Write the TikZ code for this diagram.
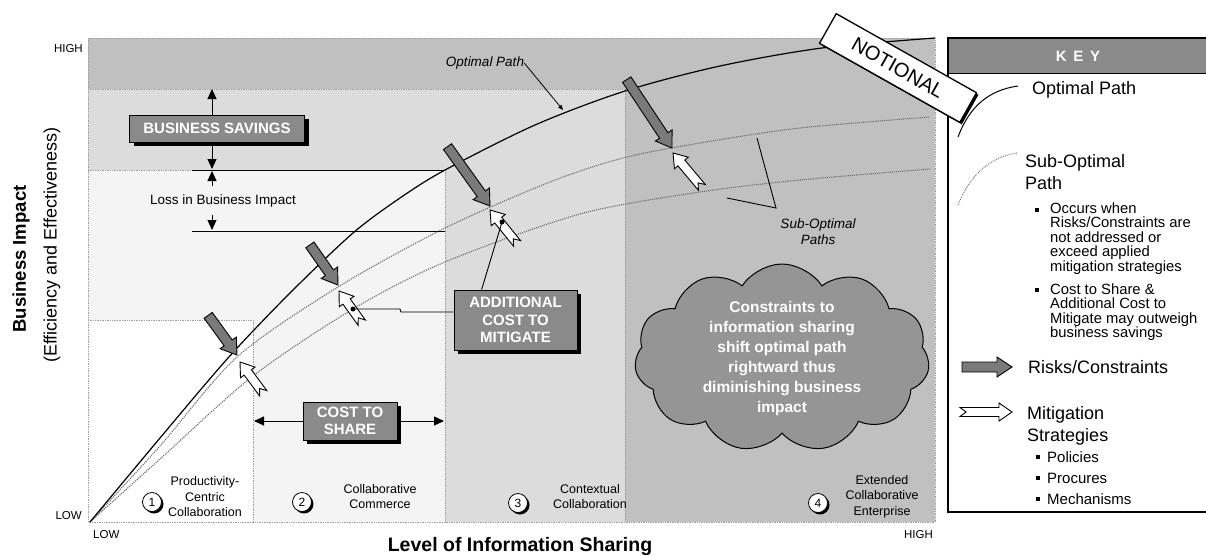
\documentclass[tikz,border=0pt]{standalone}
\usepackage{fontspec}
\setmainfont{Liberation Sans}
\usetikzlibrary{positioning}
\usetikzlibrary{arrows.meta}
\usetikzlibrary{shapes.symbols}
\usetikzlibrary{shadows}
\definecolor{bandhi}{HTML}{C0C0C0}
\definecolor{bandmid}{HTML}{DCDCDC}
\definecolor{bandlo}{HTML}{F4F4F4}
\definecolor{boxgray}{HTML}{8A8A8A}
\definecolor{riskgray}{HTML}{7A7A7A}
\definecolor{cloudgray}{HTML}{959595}
\definecolor{subgray}{HTML}{6E6E6E}
\begin{document}
\begin{tikzpicture}[
    x=1pt, y=-1pt,
    bound/.style={draw=gray!75, densely dotted, line width=0.7pt},
    optpath/.style={line width=1.2pt},
    subpath/.style={draw=subgray, densely dotted, line width=1.1pt},
    tag/.style={rectangle, draw=black, line width=0.8pt, fill=boxgray, text=white, align=center, inner sep=0pt, font=\bfseries\fontsize{15}{17.5}\selectfont, drop shadow={shadow xshift=4pt, shadow yshift=-4pt, fill=black, opacity=1}},
    numc/.style={circle, draw=black, line width=0.8pt, fill=white, minimum size=19pt, inner sep=0pt, font=\fontsize{12}{12}\selectfont, drop shadow={shadow xshift=2pt, shadow yshift=-2pt, fill=black, opacity=1}},
    reg/.style={align=center, inner sep=0pt, font=\fontsize{12.5}{15.5}\selectfont},
    axl/.style={inner sep=0pt, font=\fontsize{11.5}{12}\selectfont},
    note/.style={align=center, inner sep=0pt, font=\itshape\fontsize{13.5}{16}\selectfont},
    keytxt/.style={anchor=west, align=left, inner sep=0pt, font=\fontsize{18}{21.5}\selectfont},
    keysub/.style={anchor=west, align=left, inner sep=0pt, font=\fontsize{14.8}{14.5}\selectfont},
    bul/.style={rectangle, fill=black, inner sep=0pt, minimum size=4pt},
    dot/.style={circle, fill=black, inner sep=0pt, minimum size=5pt},
    arr/.style={-{Triangle[length=10pt, width=9pt]}, line width=1pt},
    thinarr/.style={-{Triangle[length=5pt, width=4pt]}, line width=0.8pt},
    pics/risk/.style={code={\draw[line width=0.9pt, fill=riskgray] (-#1,5) -- (-15,5) -- (-15,10) -- (0,0) -- (-15,-10) -- (-15,-5) -- (-#1,-5) -- cycle;}},
    pics/mitig/.style={code={\draw[line width=0.9pt, fill=white] (-#1,4.5) -- (-13,4.5) -- (-13,9) -- (0,0) -- (-13,-9) -- (-13,-4.5) -- (-#1,-4.5) -- (-#1+6,0) -- cycle;}}
]
\useasboundingbox (0,0) rectangle (1206,555);
\fill[white] (0,0) rectangle (1206,555);

\fill[bandhi] (88,38) rectangle (935,522);
\fill[bandmid] (88,89) rectangle (625,522);
\fill[bandlo] (88,170) rectangle (445,522);
\fill[white] (88,320) rectangle (253,522);
\draw[bound] (88,38) rectangle (935,522);
\draw[bound] (88,89) -- (625,89) -- (625,522);
\draw[bound] (88,170) -- (445,170) -- (445,522);
\draw[bound] (88,320) -- (253,320) -- (253,522);

\draw[subpath] plot[smooth] coordinates {(90,522) (160,459) (253,376) (353,309) (445,262) (580,214) (700,192) (800,180) (930,169)};
\draw[subpath] plot[smooth] coordinates {(90,522) (160,446) (237,357) (338,287) (445,228) (550,182) (623,158) (700,143) (800,128) (930,117)};
\draw[optpath] plot[smooth] coordinates {(90,522) (160,438) (228,358) (290,293) (353,233) (400,198) (445,170) (535,125) (625,91) (720,66) (822,48) (935,38)};

\draw[line width=1pt] (192,170) -- (445,170);
\draw[line width=1pt] (192,231) -- (445,231);

\pic[rotate=-54] at (237,355) {risk=49};
\pic[rotate=-55] at (338,285) {risk=49};
\pic[rotate=-54.4] at (490,206) {risk=73};
\pic[rotate=-56.5] at (672,148) {risk=82};

\pic[rotate=126.6] at (240,362) {mitig=39};
\pic[rotate=125.7] at (339,291) {mitig=39};
\pic[rotate=129] at (490,210) {mitig=43};
\pic[rotate=130] at (673,153) {mitig=45};

\node[dot] (dot2) at (353,309) {};
\node[dot] (dot3) at (502,222) {};

\node[tag, minimum width=175pt, minimum height=27pt] (savebox) at (217,128.5) {BUSINESS SAVINGS};
\node[tag, minimum width=94pt, minimum height=38pt] (sharebox) at (350,421) {COST TO\\SHARE};
\node[tag, minimum width=123pt, minimum height=60pt] (addbox) at (515.5,320) {ADDITIONAL\\COST TO\\MITIGATE};

\draw[arr] ([xshift=-5pt]savebox.north) -- (212,89);
\draw[arr] ([xshift=-5pt]savebox.south) -- (212,169);
\node[axl, font=\fontsize{13.5}{16}\selectfont] (loss) at (223,201) {Loss in Business Impact};
\draw[arr] (212,186) -- (212,171);
\draw[arr] (212,215) -- (212,230);
\draw[arr] (sharebox.west) -- (254,421);
\draw[arr] (sharebox.east) -- (444,421);
\draw[line width=0.9pt] ([xshift=28pt]addbox.north west) -- (dot3.center);
\draw[line width=0.9pt] (dot2.center) -- (400,309) -- (401,312) -- ([yshift=8pt]addbox.west);

\node[note] (optlbl) at (485,63) {Optimal Path};
\coordinate (optpt) at (563,110);
\draw[thinarr] (optlbl.east) -- (optpt);

\node[note] (sublbl) at (818,232) {Sub-Optimal\\Paths};
\coordinate (subjoin) at (776,208);
\coordinate (subup) at (757,138);
\coordinate (sublow) at (727,198);
\draw[line width=0.9pt] (subup) -- (subjoin) -- (sublow);

\node[cloud, cloud puffs=11, cloud puff arc=115, aspect=1.55, draw=black, line width=1pt, fill=cloudgray, minimum width=295pt, minimum height=188pt] (cloud) at (782,358) {};
\node[align=center, text=white, inner sep=0pt, font=\bfseries\fontsize{15.5}{20}\selectfont] (cloudtxt) at (cloud.center) {Constraints to\\information sharing\\shift optimal path\\rightward thus\\diminishing business\\impact};

\node[numc] (n1) at (152,502) {1};
\node[numc] (n2) at (302,502) {2};
\node[numc] (n3) at (518,503) {3};
\node[numc] (n4) at (818,503) {4};
\node[reg] (r1) at (205,497) {Productivity-\\Centric\\Collaboration};
\node[reg] (r2) at (380,496.5) {Collaborative\\Commerce};
\node[reg] (r3) at (590,496.5) {Contextual\\Collaboration};
\node[reg] (r4) at (882,496.5) {Extended\\Collaborative\\Enterprise};

\node[axl, anchor=east] (yhigh) at (83,49) {HIGH};
\node[axl, anchor=east] (ylow) at (82,516) {LOW};
\node[axl, anchor=west] (xlow) at (93,535) {LOW};
\node[axl, anchor=east] (xhigh) at (933,535) {HIGH};
\node[font=\bfseries\fontsize{19.5}{20}\selectfont] (xaxis) at (520,546) {Level of Information Sharing};
\node[rotate=90, font=\bfseries\fontsize{18.5}{20}\selectfont] (yaxis) at (21,259) {Business Impact};
\node[rotate=90, font=\fontsize{18}{20}\selectfont] (ysub) at (52,245) {(Efficiency and Effectiveness)};

\fill[boxgray] (948,38) rectangle (1212,73);
\draw[line width=1.2pt] (948,38) rectangle (1212,512);
\draw[line width=1pt] (948,73) -- (1212,73);
\node[text=white, font=\bfseries\fontsize{15}{15}\selectfont] (keyhd) at (1078,56) {K\hspace{0.45em}E\hspace{0.45em}Y};

\draw[line width=1pt] (958,137) .. controls (970,105) and (990,90) .. (1018,86);
\node[keytxt] (kopt) at (1032,90) {Optimal Path};
\draw[subpath, line width=0.9pt] (958,205) .. controls (970,175) and (990,157) .. (1017,153);
\node[keytxt] (ksub) at (1025,172) {Sub-Optimal\\Path};
\node[bul] (b1) at (1037,210) {};
\node[keysub] (ksub1) at (1050,238.5) {Occurs when\\Risks/Constraints are\\not addressed or\\exceed applied\\mitigation strategies};
\node[bul] (b2) at (1037,290) {};
\node[keysub] (ksub2) at (1050,312) {Cost to Share \&\\Additional Cost to\\Mitigate may outweigh\\business savings};
\pic at (1012,367) {risk=50};
\node[keytxt] (krisk) at (1028,367) {Risks/Constraints};
\pic at (1012,412) {mitig=52};
\node[keytxt] (kmit) at (1027,426) {Mitigation\\Strategies};
\node[bul] (b3) at (1038,457) {};
\node[bul] (b4) at (1038,478) {};
\node[bul] (b5) at (1038,499) {};
\node[keysub, font=\fontsize{15}{21}\selectfont] (kmit1) at (1047,478) {Policies\\Procures\\Mechanisms};

\node[draw=black, line width=1.3pt, fill=white, rotate=-29.4, minimum width=161pt, minimum height=34pt, inner sep=0pt, font=\fontsize{20}{20}\selectfont, drop shadow={shadow xshift=2pt, shadow yshift=-2pt, fill=black, opacity=1}] (notional) at (898,68) {NOTIONAL};
\end{tikzpicture}
\end{document}
